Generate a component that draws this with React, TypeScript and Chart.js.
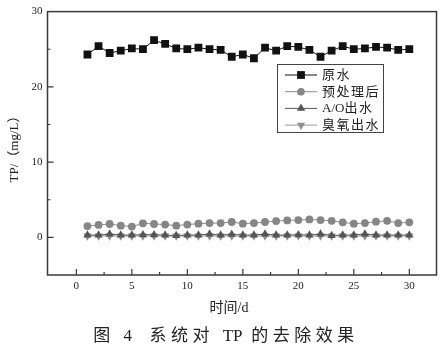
import React, { useEffect, useRef } from 'react';
import { Chart, registerables } from 'chart.js';

Chart.register(...registerables);

const days = [1, 2, 3, 4, 5, 6, 7, 8, 9, 10, 11, 12, 13, 14, 15, 16, 17, 18, 19, 20, 21, 22, 23, 24, 25, 26, 27, 28, 29, 30];
const rawWater = [24.3, 25.4, 24.5, 24.8, 25.1, 25.0, 26.2, 25.7, 25.1, 25.0, 25.2, 25.0, 24.9, 24.0, 24.3, 23.8, 25.2, 24.8, 25.4, 25.3, 24.9, 24.0, 24.8, 25.4, 25.0, 25.1, 25.3, 25.2, 24.9, 25.0];
const pretreated = [1.5, 1.65, 1.78, 1.56, 1.43, 1.87, 1.78, 1.7, 1.56, 1.7, 1.82, 1.9, 1.9, 2.04, 1.82, 1.9, 2.04, 2.17, 2.25, 2.3, 2.38, 2.3, 2.2, 2.0, 1.82, 1.9, 2.08, 2.2, 1.9, 2.0];
const aoEffluent = [0.3, 0.3, 0.45, 0.3, 0.3, 0.35, 0.35, 0.3, 0.25, 0.3, 0.3, 0.45, 0.3, 0.4, 0.3, 0.3, 0.45, 0.3, 0.3, 0.35, 0.3, 0.45, 0.25, 0.3, 0.3, 0.45, 0.3, 0.3, 0.3, 0.3];
const ozoneEffluent = [0.18, 0.2, 0.2, 0.18, 0.2, 0.18, 0.2, 0.18, 0.18, 0.2, 0.18, 0.2, 0.18, 0.2, 0.18, 0.18, 0.2, 0.18, 0.2, 0.18, 0.18, 0.2, 0.18, 0.2, 0.18, 0.2, 0.18, 0.2, 0.18, 0.2];

const seriesNames = ['原水', '预处理后', 'A/O出水', '臭氧出水'];
const xTickValues = [0, 5, 10, 15, 20, 25, 30];
const xMinorTickValues = [2.5, 7.5, 12.5, 17.5, 22.5, 27.5];
const yTickValues = [0, 10, 20, 30];
const yMinorTickValues = [5, 15, 25];
const xTitle = '时间/d';
const yTitle = 'TP/（mg/L）';
const caption = '图 4  系统对 TP 的去除效果';

const FONT = '"Liberation Serif", "Noto Sans CJK SC", serif';
const AXIS_COLOR = '#3a3a3a';
const TEXT_COLOR = '#222';

function isSpaced(ch: string) {
  return /[\s\u3000-\u9fff\uff00-\uffef]/.test(ch);
}

// draws text with extra spacing after CJK characters and spaces
function drawSpaced(ctx: CanvasRenderingContext2D, text: string, x: number, y: number, gap: number, align: 'left' | 'center') {
  const chars = Array.from(text);
  const widths = chars.map((c) => ctx.measureText(c).width + (isSpaced(c) ? gap : 0));
  const total = widths.reduce((a, b) => a + b, 0);
  let cx = align === 'center' ? x - total / 2 : x;
  ctx.save();
  ctx.textAlign = 'left';
  chars.forEach((c, i) => {
    ctx.fillText(c, cx, y);
    cx += widths[i];
  });
  ctx.restore();
}

function drawMarker(ctx: CanvasRenderingContext2D, style: string, x: number, y: number, r: number, color: string) {
  ctx.save();
  ctx.fillStyle = color;
  ctx.beginPath();
  if (style === 'rect') {
    const s = r * Math.SQRT1_2;
    ctx.rect(x - s, y - s, 2 * s, 2 * s);
  } else if (style === 'circle') {
    ctx.arc(x, y, r, 0, Math.PI * 2);
  } else if (style === 'triangle') {
    ctx.moveTo(x, y - r);
    ctx.lineTo(x + r * 0.866, y + r * 0.5);
    ctx.lineTo(x - r * 0.866, y + r * 0.5);
    ctx.closePath();
  } else if (style === 'triangleDown') {
    ctx.moveTo(x, y + r);
    ctx.lineTo(x + r * 0.866, y - r * 0.5);
    ctx.lineTo(x - r * 0.866, y - r * 0.5);
    ctx.closePath();
  }
  ctx.fill();
  ctx.restore();
}

const decorPlugin = {
  id: 'decor',
  afterDraw(chart: any) {
    const { ctx, chartArea } = chart;
    const xs = chart.scales.x;
    const ys = chart.scales.y;
    const { left, right, top, bottom } = chartArea;
    ctx.save();
    // frame
    ctx.strokeStyle = AXIS_COLOR;
    ctx.lineWidth = 1.5;
    ctx.strokeRect(left, top, right - left, bottom - top);
    // ticks (inward)
    ctx.lineWidth = 1.2;
    ctx.beginPath();
    xTickValues.forEach((v) => {
      const px = xs.getPixelForValue(v);
      ctx.moveTo(px, bottom);
      ctx.lineTo(px, bottom - 6);
    });
    xMinorTickValues.forEach((v) => {
      const px = xs.getPixelForValue(v);
      ctx.moveTo(px, bottom);
      ctx.lineTo(px, bottom - 3);
    });
    yTickValues.forEach((v) => {
      if (v === 30) return;
      const py = ys.getPixelForValue(v);
      ctx.moveTo(left, py);
      ctx.lineTo(left + 6, py);
    });
    yMinorTickValues.forEach((v) => {
      const py = ys.getPixelForValue(v);
      ctx.moveTo(left, py);
      ctx.lineTo(left + 3, py);
    });
    ctx.stroke();

    // legend
    const lx = 277, ly = 64, lw = 106, lh = 68;
    ctx.fillStyle = '#fff';
    ctx.fillRect(lx, ly, lw, lh);
    ctx.strokeStyle = '#444';
    ctx.lineWidth = 1;
    ctx.strokeRect(lx + 0.5, ly + 0.5, lw, lh);
    const styles = ['rect', 'circle', 'triangle', 'triangleDown'];
    const radii = [5.5, 3.8, 4.8, 4.8];
    chart.data.datasets.forEach((ds: any, i: number) => {
      const cy = 75 + i * 16.7;
      ctx.strokeStyle = ds.borderColor;
      ctx.lineWidth = 1;
      ctx.beginPath();
      ctx.moveTo(285, cy);
      ctx.lineTo(317, cy);
      ctx.stroke();
      drawMarker(ctx, styles[i], 301, cy, radii[i], ds.pointBackgroundColor);
      ctx.fillStyle = TEXT_COLOR;
      ctx.font = `13px ${FONT}`;
      ctx.textBaseline = 'middle';
      drawSpaced(ctx, ds.label, 322, cy + 0.5, 1.5, 'left');
    });

    // axis titles
    ctx.fillStyle = TEXT_COLOR;
    ctx.font = `14px ${FONT}`;
    ctx.textAlign = 'center';
    ctx.textBaseline = 'middle';
    ctx.fillText(xTitle, 229, 308);

    ctx.save();
    ctx.translate(15, 146);
    ctx.rotate(-Math.PI / 2);
    ctx.font = `13px ${FONT}`;
    ctx.fillText(yTitle, 0, 0);
    ctx.restore();

    // caption
    ctx.font = `17px ${FONT}`;
    ctx.textBaseline = 'middle';
    drawSpaced(ctx, caption, 226, 337, 4.5, 'center');
    ctx.restore();
  },
};

function toPoints(values: number[]) {
  return days.map((d, i) => ({ x: d, y: values[i] }));
}

export default function App() {
  const canvasRef = useRef<HTMLCanvasElement | null>(null);

  useEffect(() => {
    const canvas = canvasRef.current;
    if (!canvas) return;
    const chart = new Chart(canvas, {
      type: 'line',
      data: {
        datasets: [
          {
            label: seriesNames[0],
            data: toPoints(rawWater),
            borderColor: '#111',
            backgroundColor: '#111',
            pointBackgroundColor: '#111',
            pointBorderColor: '#111',
            pointStyle: 'rect',
            pointRadius: 5.5,
            pointBorderWidth: 0,
            borderWidth: 1,
            tension: 0,
          },
          {
            label: seriesNames[1],
            data: toPoints(pretreated),
            borderColor: '#8c8c8c',
            backgroundColor: '#868686',
            pointBackgroundColor: '#868686',
            pointBorderColor: '#868686',
            pointStyle: 'circle',
            pointRadius: 3.9,
            pointBorderWidth: 0,
            borderWidth: 1,
            tension: 0,
          },
          {
            label: seriesNames[2],
            data: toPoints(aoEffluent),
            borderColor: '#555',
            backgroundColor: '#555',
            pointBackgroundColor: '#555',
            pointBorderColor: '#555',
            pointStyle: 'triangle',
            pointRadius: 4.8,
            pointBorderWidth: 0,
            borderWidth: 1,
            tension: 0,
          },
          {
            label: seriesNames[3],
            data: toPoints(ozoneEffluent),
            borderColor: '#999',
            backgroundColor: '#8f8f8f',
            pointBackgroundColor: '#8f8f8f',
            pointBorderColor: '#8f8f8f',
            pointStyle: 'triangle',
            pointRotation: 180,
            pointRadius: 4.8,
            pointBorderWidth: 0,
            borderWidth: 1,
            tension: 0,
          },
        ],
      },
      options: {
        responsive: false,
        animation: false,
        layout: { padding: { left: 0, top: 4.5, right: 10.5, bottom: 46 } },
        plugins: {
          legend: { display: false },
          tooltip: { enabled: false },
          title: { display: false },
        },
        scales: {
          x: {
            type: 'linear',
            min: -2.6,
            max: 32.45,
            grid: { display: false, drawTicks: false },
            border: { display: false },
            afterBuildTicks: (scale: any) => {
              scale.ticks = xTickValues.map((v) => ({ value: v }));
            },
            afterFit: (scale: any) => {
              scale.height = 40;
            },
            ticks: {
              autoSkip: false,
              maxRotation: 0,
              padding: 4.4,
              color: TEXT_COLOR,
              font: { family: FONT, size: 11 },
              callback: (v: any) => String(v),
            },
          },
          y: {
            type: 'linear',
            min: -5,
            max: 30,
            grid: { display: false, drawTicks: false },
            border: { display: false },
            afterBuildTicks: (scale: any) => {
              scale.ticks = yTickValues.map((v) => ({ value: v }));
            },
            afterFit: (scale: any) => {
              scale.width = 47.5;
            },
            ticks: {
              autoSkip: false,
              padding: 5,
              color: TEXT_COLOR,
              font: { family: FONT, size: 11 },
              callback: (v: any) => String(v),
            },
          },
        },
      },
      plugins: [decorPlugin],
    });
    return () => chart.destroy();
  }, []);

  return (
    <div style={{ position: 'fixed', left: 0, top: 0, width: 447, height: 361, background: '#fff' }}>
      <canvas ref={canvasRef} width={447} height={361} style={{ width: 447, height: 361, display: 'block' }} />
    </div>
  );
}
